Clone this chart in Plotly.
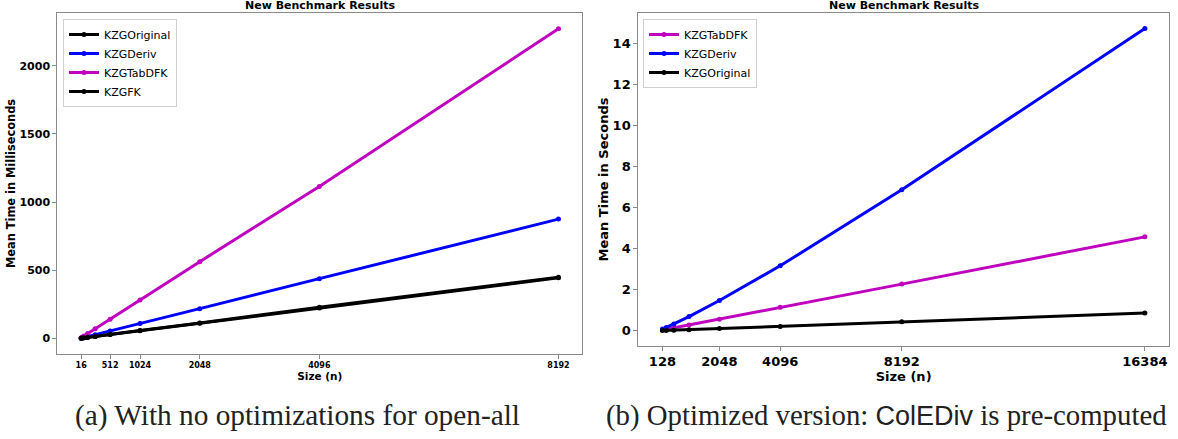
import plotly.graph_objects as go

# ---- (a) no optimizations: mean time in milliseconds ----
sizes_a = [16, 32, 64, 128, 256, 512, 1024, 2048, 4096, 8192]
orig_a = [0.9, 1.8, 3.5, 7.0, 14.0, 28.0, 55.0, 110.0, 222.0, 444.0]
deriv_a = [1.7, 3.4, 6.8, 13.6, 27.0, 54.0, 109.0, 218.0, 438.0, 875.0]
tabdfk_a = [4.4, 8.8, 17.5, 35.0, 70.0, 140.0, 281.0, 563.0, 1115.0, 2272.0]
fk_a = [0.9, 1.8, 3.6, 7.2, 14.3, 28.5, 57.0, 113.0, 228.0, 449.0]
xticks_a = [16, 512, 1024, 2048, 4096, 8192]
yticks_a = [0, 500, 1000, 1500, 2000]

# ---- (b) optimized: mean time in seconds ----
sizes_b = [128, 256, 512, 1024, 2048, 4096, 8192, 16384]
tabdfk_b = [0.035, 0.07, 0.14, 0.28, 0.56, 1.14, 2.27, 4.57]
deriv_b = [0.08, 0.16, 0.33, 0.69, 1.47, 3.16, 6.86, 14.72]
orig_b = [0.007, 0.014, 0.027, 0.054, 0.11, 0.21, 0.44, 0.86]
xticks_b = [128, 2048, 4096, 8192, 16384]
yticks_b = [0, 2, 4, 6, 8, 10, 12, 14]

MAG, BLUE, BLACK = "#bf00bf", "#0000ff", "#000000"
W, H = 1178, 439


def pad(lo, hi, frac=0.05):
    d = (hi - lo) * frac
    return [lo - d, hi + d]


def series(x, y, name, color, xa, ya, legend):
    return go.Scatter(
        x=x, y=y, name=name, mode="lines+markers",
        line=dict(color=color, width=3),
        marker=dict(color=color, size=5),
        xaxis=xa, yaxis=ya, legend=legend,
    )


fig = go.Figure()
fig.add_trace(series(sizes_a, orig_a, "KZGOriginal", BLACK, "x", "y", "legend"))
fig.add_trace(series(sizes_a, deriv_a, "KZGDeriv", BLUE, "x", "y", "legend"))
fig.add_trace(series(sizes_a, tabdfk_a, "KZGTabDFK", MAG, "x", "y", "legend"))
fig.add_trace(series(sizes_a, fk_a, "KZGFK", BLACK, "x", "y", "legend"))

fig.add_trace(series(sizes_b, tabdfk_b, "KZGTabDFK", MAG, "x2", "y2", "legend2"))
fig.add_trace(series(sizes_b, deriv_b, "KZGDeriv", BLUE, "x2", "y2", "legend2"))
fig.add_trace(series(sizes_b, orig_b, "KZGOriginal", BLACK, "x2", "y2", "legend2"))

SPINE = "#8a8a8a"
FONT = "DejaVu Sans"


def axis(domain, rng, ticks, size, title, tsize, standoff, anchor):
    return dict(
        domain=domain, range=rng, tickmode="array", tickvals=ticks,
        ticktext=[str(t) for t in ticks],
        tickfont=dict(family=FONT, size=size, color="black", weight="bold"),
        showline=True, linecolor=SPINE, linewidth=1, mirror=True,
        ticks="outside", ticklen=4, tickcolor=SPINE, tickwidth=1,
        showgrid=False, zeroline=False, anchor=anchor,
        title=dict(text=title, standoff=standoff,
                   font=dict(family=FONT, size=tsize, color="black", weight="bold")),
    )


fig.update_layout(
    width=W, height=H,
    margin=dict(l=0, r=0, t=0, b=0),
    paper_bgcolor="white", plot_bgcolor="white",
    font=dict(family=FONT, color="black"),
    xaxis=axis([57.3 / W, 582.3 / W], pad(16, 8192), xticks_a, 8, "Size (n)", 10.5, 2, "y"),
    yaxis=axis([1 - 353.7 / H, 1 - 13.3 / H], pad(0.9, 2272), yticks_a, 11,
               "Mean Time in Milliseconds", 11.4, 1, "x"),
    xaxis2=axis([638.3 / W, 1169 / W], pad(128, 16384), xticks_b, 13, "Size (n)", 13, 1, "y2"),
    yaxis2=axis([1 - 345.7 / H, 1 - 13.3 / H], pad(0.007, 14.72), yticks_b, 13,
                "Mean Time in Seconds", 13, 1, "x2"),
    legend=dict(x=63 / W, y=1 - 19 / H, xanchor="left", yanchor="top",
                bgcolor="white", bordercolor="#d0d0d0", borderwidth=1,
                font=dict(family=FONT, size=11, color="black"), itemwidth=30),
    legend2=dict(x=643 / W, y=1 - 19 / H, xanchor="left", yanchor="top",
                 bgcolor="white", bordercolor="#d0d0d0", borderwidth=1,
                 font=dict(family=FONT, size=11, color="black"), itemwidth=30),
    showlegend=True,
)

# subplot titles
for cx in [(57.3 + 582.3) / 2, (638.3 + 1169) / 2]:
    fig.add_annotation(
        text="New Benchmark Results", x=cx / W, y=1 - 6 / H, xref="paper", yref="paper",
        showarrow=False, xanchor="center", yanchor="middle",
        font=dict(family=FONT, size=11, color="black", weight="bold"),
    )

# captions under each panel
CAP = "Liberation Serif"
fig.add_annotation(
    text="(a) With no optimizations for open-all", x=297 / W, y=1 - 415 / H,
    xref="paper", yref="paper", showarrow=False, xanchor="center", yanchor="middle",
    font=dict(family=CAP, size=29.3, color="#222222"),
)
fig.add_annotation(
    text="(b) Optimized version: <span style=\"font-family:'Liberation Sans';font-size:27px\">ColEDiv</span> is pre-computed",
    x=887 / W, y=1 - 415 / H,
    xref="paper", yref="paper", showarrow=False, xanchor="center", yanchor="middle",
    font=dict(family=CAP, size=28.8, color="#222222"),
)

fig.write_html("out.html")
